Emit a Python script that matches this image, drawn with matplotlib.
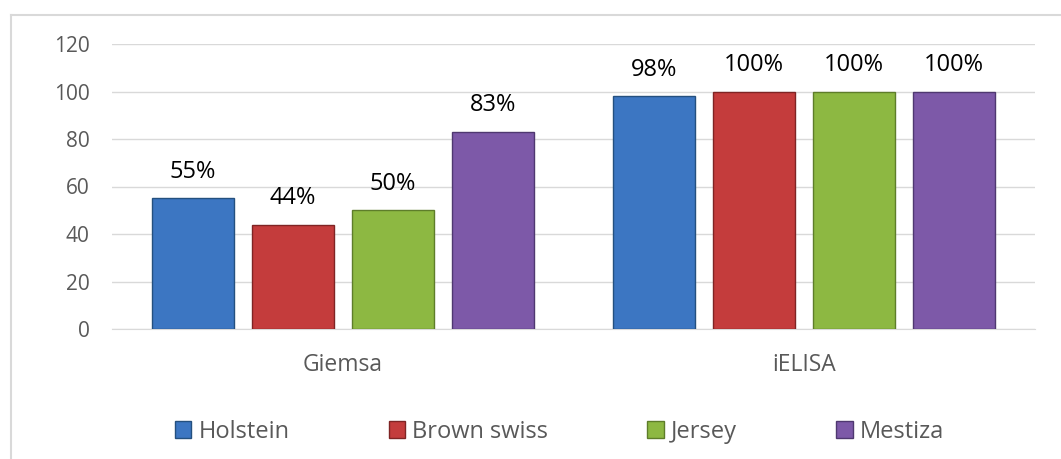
import matplotlib
matplotlib.use('Agg')
import matplotlib.pyplot as plt
from matplotlib.patches import Patch
from matplotlib.lines import Line2D
import numpy as np

# data
methods = ['Giemsa', 'iELISA']
breeds = ['Holstein', 'Brown swiss', 'Jersey', 'Mestiza']
values = {
    'Holstein':    [55, 98],
    'Brown swiss': [44, 100],
    'Jersey':      [50, 100],
    'Mestiza':     [83, 100],
}
labels = {
    'Holstein':    ['55%', '98%'],
    'Brown swiss': ['44%', '100%'],
    'Jersey':      ['50%', '100%'],
    'Mestiza':     ['83%', '100%'],
}
y_ticks = [0, 20, 40, 60, 80, 100, 120]

face_colors = ['#3C76C2', '#C43C3C', '#8DB842', '#7D59A8']
edge_colors = ['#24507F', '#7F2424', '#5E7D2A', '#4F3870']

plt.rcParams.update({'font.family': 'Open Sans', 'font.size': 15})

fig = plt.figure(figsize=(10.61, 4.59), dpi=100)
ax = fig.add_axes([112/1061, 130/459, 923/1061, 285/459])

x = np.arange(len(methods))
step = 0.2167
width = 0.178
for i, b in enumerate(breeds):
    pos = x + (i - 1.5) * step
    bars = ax.bar(pos, values[b], width, color=face_colors[i],
                  edgecolor=edge_colors[i], linewidth=1.0, zorder=3)
    for rect, lab in zip(bars, labels[b]):
        ax.annotate(lab, (rect.get_x() + rect.get_width()/2, rect.get_height()),
                    xytext=(0, 19), textcoords='offset points',
                    ha='center', va='center', color='black', fontsize=17)

ax.set_xlim(-0.5, 1.5)
ax.set_ylim(0, 120)
ax.set_yticks(y_ticks)
ax.set_xticks(x)
ax.set_xticklabels(methods)
ax.grid(axis='y', color='#D9D9D9', linewidth=1.0, zorder=0)
ax.set_axisbelow(True)
for s in ['top', 'right', 'left']:
    ax.spines[s].set_visible(False)
ax.spines['bottom'].set_color('#D9D9D9')
ax.tick_params(axis='y', length=0, pad=16, colors='#595959', labelsize=15)
ax.tick_params(axis='x', length=0, pad=17, colors='#595959', labelsize=16.5)

# legend
handles = [Patch(facecolor=face_colors[i], edgecolor=edge_colors[i], label=b)
           for i, b in enumerate(breeds)]
leg = fig.legend(handles=handles, loc='center', ncol=4,
                 bbox_to_anchor=(559.5/1061, 1 - 432/459), frameon=False,
                 handlelength=0.7, handleheight=0.7, handletextpad=0.3,
                 columnspacing=4.2, fontsize=17)
for t in leg.get_texts():
    t.set_color('#595959')

# chart frame (left and top edge visible)
fig.add_artist(Line2D([11/1061, 11/1061], [0, 1 - 15/459], color='#D9D9D9',
                      linewidth=1.5, transform=fig.transFigure))
fig.add_artist(Line2D([11/1061, 1], [1 - 15/459, 1 - 15/459], color='#D9D9D9',
                      linewidth=1.5, transform=fig.transFigure))

plt.savefig('out.png', dpi=100)
